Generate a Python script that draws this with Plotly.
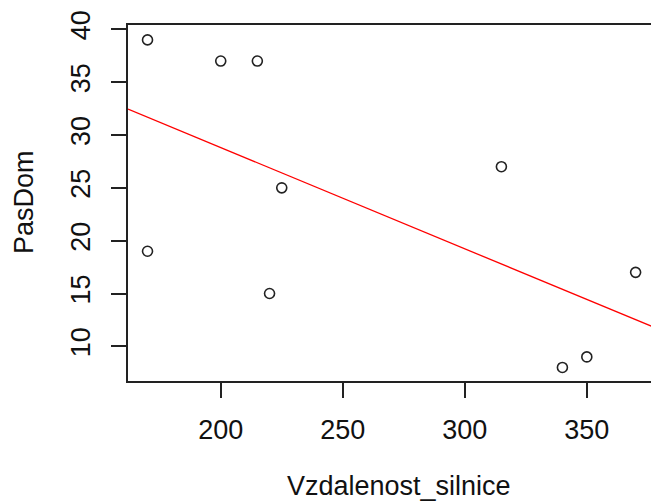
import numpy as np
import plotly.graph_objects as go

# Distance to road vs. count of domestic passerines
vzdalenost_silnice = [170, 200, 215, 170, 225, 220, 315, 340, 350, 370]
pas_dom = [39, 37, 37, 19, 25, 15, 27, 8, 9, 17]

x_ticks = [200, 250, 300, 350]
y_ticks = [10, 15, 20, 25, 30, 35, 40]

x = np.array(vzdalenost_silnice, dtype=float)
y = np.array(pas_dom, dtype=float)

# Least-squares fit, drawn across the whole plot region (like abline)
slope, intercept = np.polyfit(x, y, 1)
pad = 0.04 * (x.max() - x.min())
x_line = np.array([x.min() - pad, x.max() + pad + 10])
y_line = intercept + slope * x_line

FONT = "Liberation Sans, Arial, sans-serif"
AX = "#222222"
FS = 27

fig = go.Figure()
fig.add_trace(go.Scatter(
    x=x_line, y=y_line, mode="lines",
    line=dict(color="#ff0000", width=1.3),
    hoverinfo="skip", showlegend=False,
))
fig.add_trace(go.Scatter(
    x=vzdalenost_silnice, y=pas_dom, mode="markers",
    marker=dict(symbol="circle-open", size=10, color="#222222",
                line=dict(width=1.6, color="#222222")),
    showlegend=False,
))

fig.update_layout(
    width=651, height=503,
    margin=dict(l=128, r=0, t=25, b=122),
    paper_bgcolor="white", plot_bgcolor="white",
    font=dict(family=FONT, color="#111111", size=FS),
    xaxis=dict(
        range=[162.0, 376.3],
        tickvals=x_ticks, ticktext=[str(v) for v in x_ticks],
        showgrid=False, zeroline=False,
        showline=True, mirror=True, linecolor=AX, linewidth=1.8,
        ticks="outside", ticklen=15, tickwidth=1.8, tickcolor=AX,
        ticklabelstandoff=9,
        tickfont=dict(size=FS, family=FONT, color="#111111"),
    ),
    yaxis=dict(
        range=[6.72, 40.41],
        tickvals=y_ticks, ticktext=[str(v) for v in y_ticks],
        tickangle=-90,
        showgrid=False, zeroline=False,
        showline=True, mirror=False, linecolor=AX, linewidth=1.8,
        ticks="outside", ticklen=15, tickwidth=1.8, tickcolor=AX,
        ticklabelstandoff=10,
        tickfont=dict(size=FS, family=FONT, color="#111111"),
    ),
    annotations=[
        dict(text="Vzdalenost_silnice", xref="paper", yref="paper",
             x=(398.5 - 128) / 523, y=-(486 - 381) / 356,
             xanchor="center", yanchor="middle", showarrow=False,
             font=dict(size=FS, family=FONT, color="#111111")),
        dict(text="PasDom", xref="paper", yref="paper",
             x=-(128 - 24) / 523, y=(381 - 202) / 356,
             xanchor="center", yanchor="middle", textangle=-90, showarrow=False,
             font=dict(size=FS, family=FONT, color="#111111")),
    ],
)

fig.write_html("out.html")
